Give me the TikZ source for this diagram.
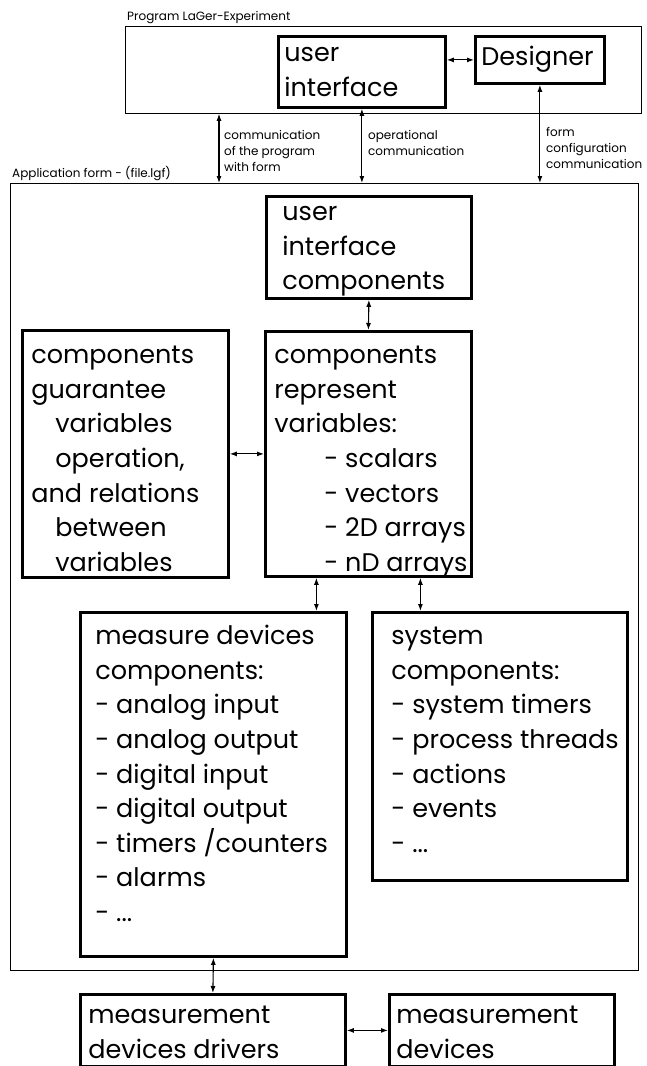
\documentclass[tikz,border=0pt]{standalone}
\usepackage{fontspec}
\setmainfont{Poppins}
\usetikzlibrary{arrows.meta, positioning, calc}

\newcommand{\bigtxt}{\fontsize{25.5}{34.6}\selectfont}
\newcommand{\smalltxt}{\fontsize{12}{16}\selectfont}
% box text: width, height, left pad, top pad, lines
\newcommand{\boxtext}[5]{\hspace*{#3}\parbox[c][#2][t]{\dimexpr#1-#3\relax}{\vspace*{#4}\strut#5}}
\newcommand{\ind}{\hspace*{24pt}}
\newcommand{\subind}{\hspace*{50pt}}

\begin{document}
\begin{tikzpicture}[x=1pt, y=-1pt, >={Latex[length=7pt,width=5pt]},
  blk/.style={draw, line width=2.8pt, anchor=north west, inner sep=0pt, font=\bigtxt},
  frm/.style={draw, line width=0.8pt, anchor=north west, inner sep=0pt},
  lbl/.style={font=\smalltxt, anchor=base west, inner sep=0pt, align=left},
  link/.style={<->, line width=1.1pt}]
\useasboundingbox (0,0) rectangle (646,1066);

% Program frame
\node[frm, minimum width=516pt, minimum height=87pt] (prog) at (125,26) {};
\node[lbl] (progt) at (127,20) {Program LaGer-Experiment};
\node[blk] (ui) at (277,35) {\boxtext{167pt}{71pt}{6pt}{1pt}{user\\interface}};
\node[blk] (des) at (474,35) {\boxtext{129pt}{47pt}{6pt}{5pt}{Designer}};

% Application form frame
\node[frm, minimum width=628pt, minimum height=787pt] (app) at (10,183) {};
\node[lbl] (appt) at (12,177) {Application form - (file.lgf)};

% communication labels (base = last line)
\coordinate (lft) at (219,0);
\node[lbl] (cpf) at (224,171) {communication\\of the program\\with form};
\node[lbl] (opc) at (368,155) {operational\\communication};
\node[lbl] (fcc) at (546,168) {form\\configuration\\communication};

% components
\node[blk] (uic) at (265,195) {\boxtext{205pt}{102pt}{16pt}{0pt}{user\\interface\\components}};
\node[blk] (crv) at (264,330) {\boxtext{206pt}{245pt}{9pt}{8pt}{components\\represent\\variables:\\
  \subind- scalars\\\subind- vectors\\\subind- 2D arrays\\\subind- nD arrays}};
\node[blk] (cgv) at (21,329) {\boxtext{206pt}{247pt}{9pt}{9pt}{components\\guarantee\\
  \ind variables\\\ind operation,\\and relations\\\ind between\\\ind variables}};
\node[blk] (mdc) at (79,611) {\boxtext{266pt}{344pt}{15pt}{8pt}{measure devices\\components:\\
  - analog input\\- analog output\\- digital input\\- digital output\\- timers /counters\\- alarms\\- ...}};
\node[blk] (sys) at (371,611) {\boxtext{255pt}{268pt}{19pt}{8pt}{system\\components:\\
  - system timers\\- process threads\\- actions\\- events\\- ...}};

% drivers and devices
\node[blk] (drv) at (79,993) {\boxtext{265pt}{72pt}{8pt}{5pt}{measurement\\devices drivers}};
\node[blk] (dev) at (388,993) {\boxtext{225pt}{72pt}{7pt}{5pt}{measurement\\devices}};

% connections
\draw[link] (des.west -| ui.east) -- (des.west);
\draw[link] (prog.south -| lft) -- (app.north -| lft);
\draw[link] (ui.south) -- (ui.south |- app.north);
\draw[link] (des.south) -- (des.south |- app.north);
\draw[link] (uic.south) -- (crv.north);
\draw[link] (cgv.east) -- (crv.west);
\draw[link] ([xshift=-52pt]crv.south) -- ([xshift=-52pt]crv.south |- mdc.north);
\draw[link] ([xshift=52pt]crv.south) -- ([xshift=52pt]crv.south |- sys.north);
\draw[link] (mdc.south) -- (drv.north);
\draw[link] (drv.east) -- (drv.east -| dev.west);
\end{tikzpicture}
\end{document}
